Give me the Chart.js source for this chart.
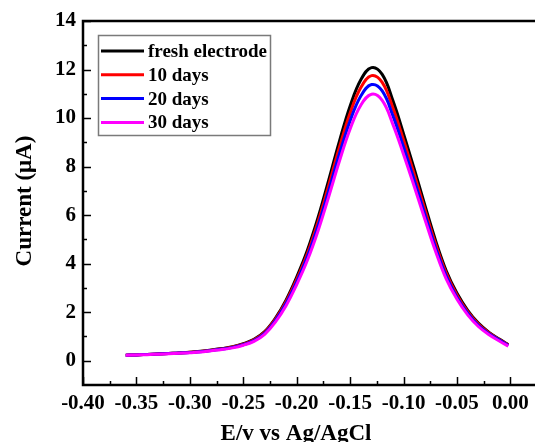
<!DOCTYPE html>
<html>
<head>
<meta charset="utf-8">
<script src="https://cdn.jsdelivr.net/npm/chart.js@4/dist/chart.umd.min.js"></script>
<style>
  html, body { margin: 0; padding: 0; background: #ffffff; overflow: hidden; }
  #wrap { position: relative; width: 535px; height: 442px; }
</style>
</head>
<body>
<div id="wrap"><canvas id="c" width="535" height="442"></canvas></div>
<script>
// ---- data ----
const potentials = [-0.36,-0.35,-0.34,-0.33,-0.32,-0.31,-0.30,-0.29,-0.28,-0.27,-0.26,-0.25,-0.24,-0.23,-0.22,-0.21,-0.20,-0.19,-0.18,-0.17,-0.16,-0.15,-0.14,-0.13,-0.12,-0.11,-0.10,-0.09,-0.08,-0.07,-0.06,-0.05,-0.04,-0.03,-0.02,-0.01,-0.002];
const freshElectrode = [0.23,0.24,0.26,0.28,0.30,0.32,0.35,0.39,0.44,0.50,0.58,0.70,0.88,1.20,1.75,2.50,3.45,4.55,5.90,7.45,9.05,10.50,11.58,12.08,11.80,10.72,9.35,7.90,6.40,4.95,3.70,2.78,2.08,1.55,1.17,0.88,0.66];
const days10 = [0.23,0.24,0.26,0.28,0.30,0.32,0.35,0.38,0.43,0.49,0.57,0.68,0.86,1.17,1.70,2.43,3.35,4.42,5.73,7.24,8.80,10.21,11.26,11.75,11.47,10.42,9.09,7.68,6.22,4.81,3.60,2.70,2.02,1.51,1.14,0.86,0.65];
const days20 = [0.23,0.24,0.26,0.28,0.30,0.32,0.34,0.37,0.42,0.48,0.55,0.66,0.83,1.13,1.65,2.36,3.25,4.29,5.56,7.02,8.53,9.89,10.91,11.38,11.12,10.10,8.81,7.44,6.03,4.66,3.49,2.62,1.96,1.46,1.11,0.84,0.63];
const days30 = [0.23,0.24,0.25,0.27,0.29,0.31,0.33,0.36,0.41,0.46,0.53,0.64,0.80,1.09,1.59,2.27,3.14,4.14,5.36,6.77,8.23,9.55,10.53,10.98,10.73,9.74,8.50,7.18,5.82,4.50,3.36,2.53,1.89,1.41,1.07,0.80,0.60];
const seriesLabels = ['fresh electrode', '10 days', '20 days', '30 days'];
const xTicks = [-0.40,-0.35,-0.30,-0.25,-0.20,-0.15,-0.10,-0.05,0.00];
const yTicks = [0,2,4,6,8,10,12,14];
const xTitle = 'E/v vs Ag/AgCl';
const yTitle = 'Current (\u03BCA)';

const colors = ['#000000', '#ff0000', '#0000ff', '#ff00ff'];
const FONT = '"Liberation Serif", "Times New Roman", serif';

function pts(ys) { return potentials.map((x, i) => ({ x: x, y: ys[i] })); }

const allSeries = [freshElectrode, days10, days20, days30];
const datasets = allSeries.map((s, i) => ({
  label: seriesLabels[i],
  data: pts(s),
  borderColor: colors[i],
  backgroundColor: colors[i],
  borderWidth: 3,
  pointRadius: 0,
  fill: false,
  tension: 0.4,
  order: 3 - i
}));

const framePlugin = {
  id: 'frame',
  beforeDatasetsDraw(chart) {
    const { ctx, chartArea: a, scales } = chart;
    const xs = scales.x, ys = scales.y;
    ctx.save();
    ctx.strokeStyle = '#000';
    // ticks (inward)
    ctx.lineWidth = 1.5;
    ctx.beginPath();
    for (let i = 0; i < xTicks.length; i++) {
      const px = Math.round(xs.getPixelForValue(xTicks[i])) + 0.5;
      ctx.moveTo(px, a.bottom); ctx.lineTo(px, a.bottom - 8);
      if (i < xTicks.length - 1) {
        const mx = Math.round(xs.getPixelForValue((xTicks[i] + xTicks[i + 1]) / 2)) + 0.5;
        ctx.moveTo(mx, a.bottom); ctx.lineTo(mx, a.bottom - 4);
      }
    }
    for (let i = 0; i < yTicks.length; i++) {
      const py = Math.round(ys.getPixelForValue(yTicks[i])) + 0.5;
      ctx.moveTo(a.left, py); ctx.lineTo(a.left + 8, py);
      const my = Math.round(ys.getPixelForValue(yTicks[i] + 1)) + 0.5;
      if (yTicks[i] + 1 < ys.max) { ctx.moveTo(a.left, my); ctx.lineTo(a.left + 4, my); }
    }
    ctx.stroke();
    // frame: left, bottom, top
    ctx.lineWidth = 2.5;
    ctx.beginPath();
    ctx.moveTo(a.right + 2, a.top);
    ctx.lineTo(a.left, a.top);
    ctx.lineTo(a.left, a.bottom);
    ctx.lineTo(a.right + 2, a.bottom);
    ctx.stroke();
    ctx.restore();
  },
  afterDraw(chart) {
    const { ctx } = chart;
    ctx.save();
    // axis titles
    ctx.fillStyle = '#000';
    ctx.font = 'bold 23px ' + FONT;
    ctx.textAlign = 'center';
    ctx.textBaseline = 'alphabetic';
    ctx.fillText(xTitle, 296, 440);
    ctx.translate(31, 201);
    ctx.rotate(-Math.PI / 2);
    ctx.fillText(yTitle, 0, 0);
    ctx.restore();

    // legend
    ctx.save();
    const bx = 98, by = 35, bw = 172, bh = 100;
    ctx.strokeStyle = '#7a7a7a';
    ctx.lineWidth = 1.5;
    ctx.strokeRect(bx + 0.5, by + 0.5, bw, bh);
    ctx.font = 'bold 19px ' + FONT;
    ctx.textAlign = 'left';
    ctx.textBaseline = 'middle';
    for (let i = 0; i < seriesLabels.length; i++) {
      const y = 51 + i * 23.8;
      ctx.strokeStyle = colors[i];
      ctx.lineWidth = 3;
      ctx.beginPath();
      ctx.moveTo(101, y); ctx.lineTo(144, y);
      ctx.stroke();
      ctx.fillStyle = '#000';
      ctx.fillText(seriesLabels[i], 148, y + 1);
    }
    ctx.restore();
  }
};

new Chart(document.getElementById('c'), {
  type: 'line',
  data: { datasets: datasets },
  options: {
    responsive: false,
    animation: false,
    devicePixelRatio: 1,
    layout: { padding: { left: 0, right: 0, top: 21, bottom: 0 } },
    plugins: { legend: { display: false }, tooltip: { enabled: false } },
    scales: {
      x: {
        type: 'linear',
        min: -0.40,
        max: 0.023,
        afterBuildTicks: (s) => { s.ticks = xTicks.map(v => ({ value: v })); },
        afterFit: (s) => { s.height = 57; },
        grid: { display: false, drawTicks: false },
        border: { display: false },
        ticks: {
          color: '#000',
          font: { family: FONT, size: 21, weight: 'bold' },
          padding: 6,
          maxRotation: 0,
          autoSkip: false,
          callback: (v) => (Math.abs(v) < 1e-9 ? 0 : v).toFixed(2)
        }
      },
      y: {
        type: 'linear',
        min: -1,
        max: 14,
        afterBuildTicks: (s) => { s.ticks = yTicks.map(v => ({ value: v })); },
        afterFit: (s) => { s.width = 83; },
        grid: { display: false, drawTicks: false },
        border: { display: false },
        ticks: {
          color: '#000',
          font: { family: FONT, size: 21, weight: 'bold' },
          padding: 7,
          autoSkip: false,
          callback: (v) => String(v)
        }
      }
    }
  },
  plugins: [framePlugin]
});
</script>
</body>
</html>
